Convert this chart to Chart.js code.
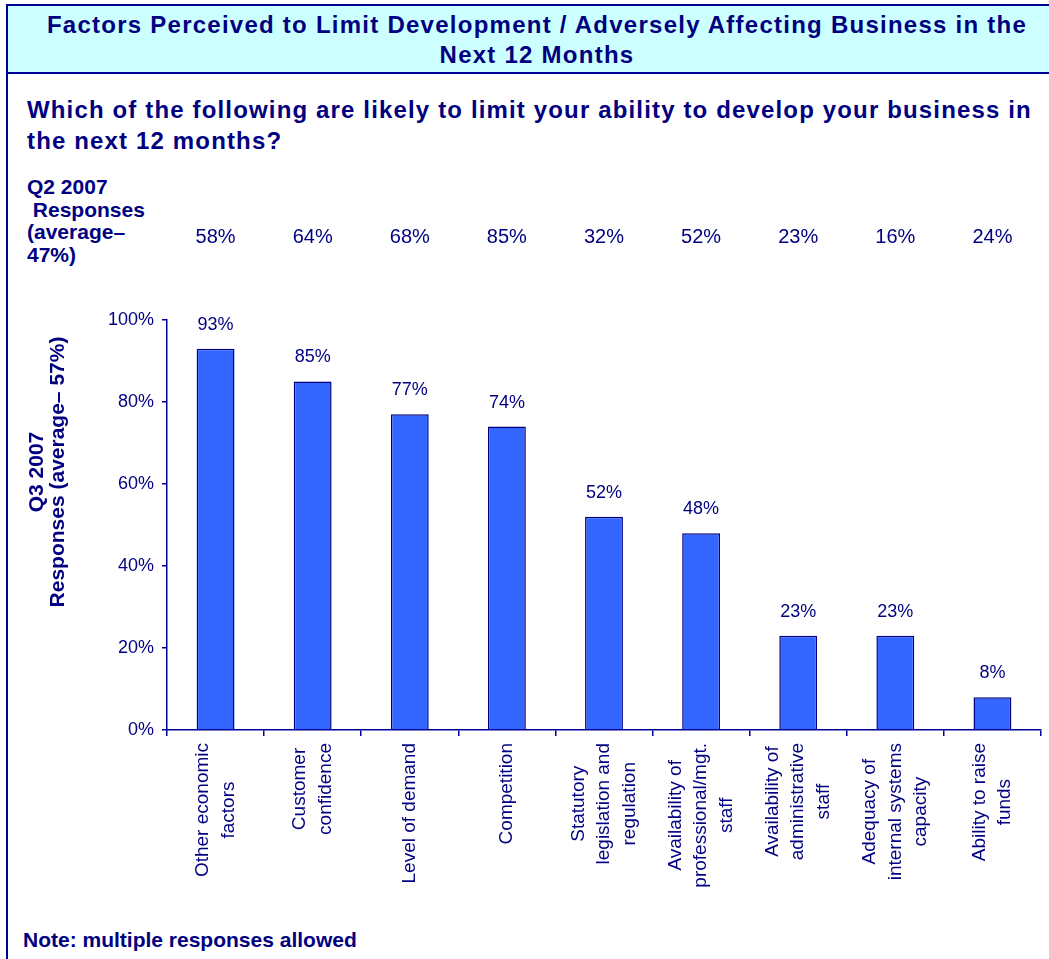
<!DOCTYPE html>
<html>
<head>
<meta charset="utf-8">
<script src="https://cdn.jsdelivr.net/npm/chart.js@4/dist/chart.umd.min.js"></script>
<style>
body{margin:0;background:#fff;font-family:"Liberation Sans",Arial,sans-serif;color:#000080;}
#page{position:relative;width:1049px;height:959px;overflow:hidden;}
#leftline{position:absolute;left:6px;top:5px;width:2px;height:954px;background:#000099;}
#head{position:absolute;left:6px;top:4px;width:1060px;height:66px;background:#CCFFFF;border-top:2px solid #000099;border-bottom:2px solid #000099;border-left:2px solid #000099;}
.txt{position:absolute;font-weight:bold;white-space:nowrap;}
#title{left:0;width:1074px;top:10px;font-size:24px;line-height:30px;text-align:center;letter-spacing:1.25px;}
#question{left:27px;top:94px;font-size:24px;line-height:31px;letter-spacing:1.15px;}
#q2{left:27px;top:176px;font-size:21px;line-height:22.7px;}
#note{left:23px;top:928px;font-size:21px;line-height:24px;}
#c{position:absolute;left:0;top:0;}
</style>
</head>
<body>
<div id="page">
<div id="head"></div>
<div id="leftline"></div>
<div class="txt" id="title">Factors Perceived to Limit Development / Adversely Affecting Business in the<br>Next 12 Months</div>
<div class="txt" id="question">Which of the following are likely to limit your ability to develop your business in<br>the next 12 months?</div>
<div class="txt" id="q2">Q2 2007<br>&nbsp;Responses<br>(average–<br>47%)</div>
<div class="txt" id="note">Note: multiple responses allowed</div>
<canvas id="c" width="1049" height="959"></canvas>
</div>
<script>
// categories (line breaks as in the picture)
const factors=[
  ["Other economic","factors"],
  ["Customer","confidence"],
  ["Level of demand"],
  ["Competition"],
  ["Statutory","legislation and","regulation"],
  ["Availability of","professional/mgt.","staff"],
  ["Availability of","administrative","staff"],
  ["Adequacy of","internal systems","capacity"],
  ["Ability to raise","funds"]
];
// Q3 2007 responses (bars)
const q3Values=[93,85,77,74,52,48,23,23,8];
// Q2 2007 responses (row above the chart)
const q2Values=[58,64,68,85,32,52,23,16,24];
const yTitle=["Q3 2007","Responses (average\u2013 57%)"];

const navy="#000080";
const axisBlue="#000099";
const font="'Liberation Sans', Arial, sans-serif";

const labelsPlugin={
  id:"labels",
  afterDraw(chart){
    const ctx=chart.ctx;
    const xs=chart.scales.x;
    const meta=chart.getDatasetMeta(0);
    ctx.save();
    ctx.fillStyle=navy;
    ctx.textAlign="center";
    ctx.textBaseline="middle";
    // value labels over bars
    ctx.font="18px "+font;
    meta.data.forEach(function(bar,i){
      ctx.fillText(q3Values[i]+"%",bar.x,bar.y-24);
    });
    // Q2 row
    ctx.font="20px "+font;
    for(let i=0;i<q2Values.length;i++){
      ctx.fillText(q2Values[i]+"%",xs.getPixelForValue(i),237);
    }
    // category labels, rotated, lines centred on each other
    ctx.font="19px "+font;
    const lh=25.5;
    const top=chart.chartArea.bottom+13;
    factors.forEach(function(lines,i){
      let maxW=0;
      lines.forEach(function(s){maxW=Math.max(maxW,ctx.measureText(s).width);});
      ctx.save();
      ctx.translate(xs.getPixelForValue(i),top);
      ctx.rotate(-Math.PI/2);
      lines.forEach(function(s,k){
        ctx.fillText(s,-maxW/2,(k-(lines.length-1)/2)*lh);
      });
      ctx.restore();
    });
    // y axis title
    ctx.font="bold 21px "+font;
    ctx.translate(48,472);
    ctx.rotate(-Math.PI/2);
    yTitle.forEach(function(s,k){
      ctx.fillText(s,0,(k-0.5)*21);
    });
    ctx.restore();
  }
};

new Chart(document.getElementById("c"),{
  type:"bar",
  data:{
    labels:factors.map(function(l){return l.join(" ");}),
    datasets:[{
      data:q3Values,
      backgroundColor:"#3366FF",
      borderColor:navy,
      borderWidth:1.5,
      categoryPercentage:1,
      barPercentage:0.39
    }]
  },
  options:{
    responsive:false,
    animation:false,
    layout:{padding:{left:107,top:320,right:8,bottom:0}},
    plugins:{legend:{display:false},tooltip:{enabled:false}},
    scales:{
      x:{
        offset:true,
        grid:{display:true,drawOnChartArea:false,drawTicks:true,tickLength:6,color:axisBlue,lineWidth:1.5},
        border:{color:axisBlue,width:1.5},
        ticks:{display:false},
        afterFit:function(s){s.height=229;}
      },
      y:{
        min:0,max:100,
        grid:{drawOnChartArea:false,tickLength:5,color:axisBlue,lineWidth:1.5},
        border:{color:axisBlue,width:1.5},
        ticks:{stepSize:20,padding:8,color:navy,font:{family:font,size:18},callback:function(v){return v+"%";}},
        afterFit:function(s){s.width=60;}
      }
    }
  },
  plugins:[labelsPlugin]
});
</script>
</body>
</html>
